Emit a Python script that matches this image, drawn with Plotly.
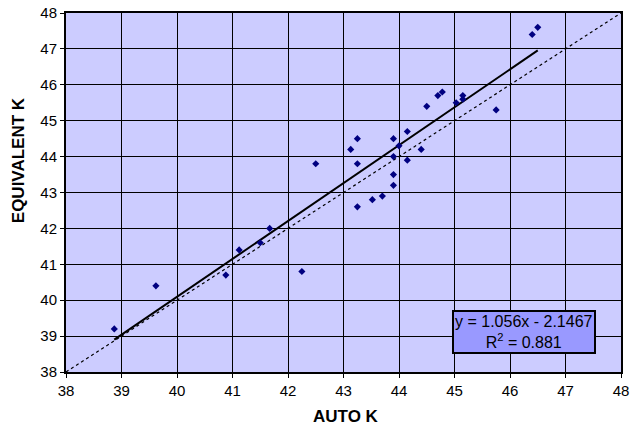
import plotly.graph_objects as go

auto_k = [38.87, 39.62, 40.88, 41.12, 41.5, 41.67, 42.25, 42.5, 43.13, 43.25, 43.25, 43.25,
          43.52, 43.7, 43.9, 43.9, 43.9, 43.9, 44.0, 44.15, 44.15, 44.4, 44.5, 44.7,
          44.78, 45.03, 45.15, 45.15, 45.75, 46.4, 46.5]
equiv_k = [39.2, 40.4, 40.7, 41.4, 41.6, 42.0, 40.8, 43.8, 44.2, 44.5, 43.8, 42.6,
           42.8, 42.9, 44.5, 44.0, 43.5, 43.2, 44.3, 44.7, 43.9, 44.2, 45.4, 45.7,
           45.8, 45.5, 45.7, 45.6, 45.3, 47.4, 47.6]
slope = 1.056
intercept = -2.1467
r2 = 0.881
ticks = list(range(38, 49))

font = "Arial, Liberation Sans, sans-serif"
fig = go.Figure()
fig.add_trace(go.Scatter(x=[38, 48], y=[38, 48], mode="lines",
                         line=dict(color="black", width=1.2, dash="dot"), hoverinfo="skip"))
xmin, xmax = min(auto_k), max(auto_k)
fig.add_trace(go.Scatter(x=[xmin, xmax], y=[slope * xmin + intercept, slope * xmax + intercept],
                         mode="lines", line=dict(color="black", width=2)))
fig.add_trace(go.Scatter(x=auto_k, y=equiv_k, mode="markers",
                         marker=dict(symbol="diamond", size=5.5, color="#000080")))

axis_common = dict(range=[38, 48], tickvals=ticks, showgrid=True, gridcolor="black", gridwidth=1,
                   showline=True, linecolor="black", linewidth=2, mirror=True,
                   ticks="outside", ticklen=4, tickcolor="black", zeroline=False, automargin=False,
                   tickfont=dict(family=font, size=15, color="black"))
fig.update_xaxes(**axis_common)
fig.update_yaxes(**axis_common)

title_font = dict(family=font, size=17, color="black")
fig.add_annotation(x=0.5, y=0, xref="paper", yref="paper", yshift=-44, xshift=2,
                   xanchor="center", yanchor="middle", text="<b>AUTO K</b>",
                   showarrow=False, font=title_font)
fig.add_annotation(x=0, y=0.59, xref="paper", yref="paper", xshift=-48,
                   xanchor="center", yanchor="middle", text="<b>EQUIVALENT K</b>",
                   textangle=-90, showarrow=False, font=title_font)

fig.add_annotation(x=0.6955, y=0.05, xref="paper", yref="paper", xanchor="left", yanchor="bottom",
                   text=f"y = {slope}x - {abs(intercept)}<br>R<sup>2</sup> = {r2}", showarrow=False,
                   align="center", bgcolor="#9999FF", bordercolor="black", borderwidth=2, borderpad=1,
                   font=dict(family=font, size=16, color="black"))

fig.update_layout(width=630, height=427, margin=dict(l=66, r=9, t=13, b=55),
                  plot_bgcolor="#CCCCFF", paper_bgcolor="white", showlegend=False)
fig.write_html("out.html", config={"displayModeBar": False},
               post_script="document.body.style.margin='0';document.body.style.overflow='hidden';")
